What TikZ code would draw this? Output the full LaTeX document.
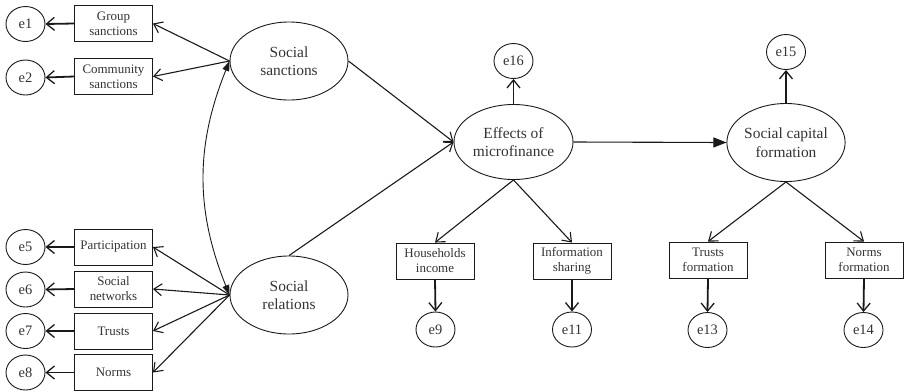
\documentclass[tikz,border=0pt]{standalone}
\usepackage{fontspec}
\setmainfont{Liberation Serif}
\usetikzlibrary{arrows.meta,shapes.geometric}
\definecolor{txt}{HTML}{333333}
\definecolor{ln}{HTML}{1A1A1A}
\begin{document}
\begin{tikzpicture}[x=1bp,y=1bp,
  lat/.style={ellipse, draw=ln, line width=0.9bp, minimum width=118bp, minimum height=78bp, inner sep=0pt, align=center, text=txt, font=\fontsize{15.5}{18.5}\selectfont},
  obs/.style={rectangle, draw=ln, line width=0.9bp, minimum width=78bp, minimum height=36bp, inner sep=0pt, align=center, text=txt, font=\fontsize{13}{15}\selectfont},
  err/.style={ellipse, draw=ln, line width=0.9bp, minimum width=39bp, minimum height=35bp, inner sep=0pt, text=txt, font=\fontsize{14.5}{16}\selectfont},
  pth/.style={draw=ln, line width=1.1bp, -{Straight Barb[length=8bp,width=12bp,line width=1.1bp]}},
  errpth/.style={draw=ln, line width=1.8bp, -{Straight Barb[length=8bp,width=13bp,line width=1.3bp]}},
  cov/.style={draw=ln, line width=0.9bp, {Triangle[length=10bp,width=7bp]}-{Triangle[length=10bp,width=7bp]}},
  reg/.style={draw=ln, line width=1.1bp, -{Triangle[length=13bp,width=10bp]}}
]
\useasboundingbox (0,0) rectangle (905,-391);

% latent variables
\node[lat] (ss) at (289,-61) {Social\\sanctions};
\node[lat] (sr) at (289,-295) {Social\\relations};
\node[lat, minimum width=119bp, minimum height=75bp] (ef) at (513.5,-142) {Effects of\\microfinance};
\node[lat] (scf) at (786,-142.5) {Social capital\\formation};

% observed variables left
\node[obs] (gs) at (113.5,-23.5) {Group\\sanctions};
\node[obs] (cs) at (113.5,-76.5) {Community\\sanctions};
\node[obs] (pa) at (113.5,-247) {Participation};
\node[obs] (sn) at (113.5,-289) {Social\\networks};
\node[obs] (tr) at (113.5,-331) {Trusts};
\node[obs] (no) at (113.5,-372.5) {Norms};

% observed variables bottom
\node[obs] (hi) at (435,-261) {Households\\income};
\node[obs] (is) at (572,-261) {Information\\sharing};
\node[obs] (tf) at (708,-260) {Trusts\\formation};
\node[obs] (nf) at (864,-260) {Norms\\formation};

% error terms
\node[err] (e1) at (25.5,-24) {e1};
\node[err] (e2) at (25.5,-77.5) {e2};
\node[err] (e5) at (25.5,-247) {e5};
\node[err] (e6) at (25.5,-289.5) {e6};
\node[err] (e7) at (25.5,-331) {e7};
\node[err] (e8) at (25.5,-372.5) {e8};
\node[err] (e16) at (513.5,-61) {e16};
\node[err] (e15) at (786,-52) {e15};
\node[err] (e9) at (435.5,-329.5) {e9};
\node[err] (e11) at (572,-329.5) {e11};
\node[err] (e13) at (707.5,-330) {e13};
\node[err] (e14) at (863.5,-330) {e14};

% measurement paths
\draw[pth] (ss.west) -- (gs.east);
\draw[pth] (ss.west) -- (cs.east);
\draw[pth] (sr.west) -- (pa.east);
\draw[pth] (sr.west) -- (sn.east);
\draw[pth] (sr.west) -- (tr.east);
\draw[pth] (sr.west) -- (no.east);
\draw[pth] (ef.south) -- (hi.north);
\draw[pth] (ef.south) -- (is.north);
\draw[pth] (scf.south) -- (tf.north);
\draw[pth] (scf.south) -- (nf.north);

% structural paths
\draw[pth] (ss.east) -- (ef.west);
\draw[pth] (sr.north) -- (ef.west);
\draw[reg] (ef.east) -- (scf.west);
\draw[cov] (ss.west) to[bend right=22] (sr.west);

% error paths
\draw[errpth] (gs.west) -- (e1.east);
\draw[errpth] (cs.west) -- (e2.east);
\draw[errpth] (pa.west) -- (e5.east);
\draw[errpth] (sn.west) -- (e6.east);
\draw[errpth] (tr.west) -- (e7.east);
\draw[errpth] (no.west) -- (e8.east);
\draw[errpth] (ef.north) -- (e16.south);
\draw[errpth] (scf.north) -- (e15.south);
\draw[errpth] (hi.south) -- (e9.north);
\draw[errpth] (is.south) -- (e11.north);
\draw[errpth] (tf.south) -- (e13.north);
\draw[errpth] (nf.south) -- (e14.north);
\end{tikzpicture}
\end{document}
